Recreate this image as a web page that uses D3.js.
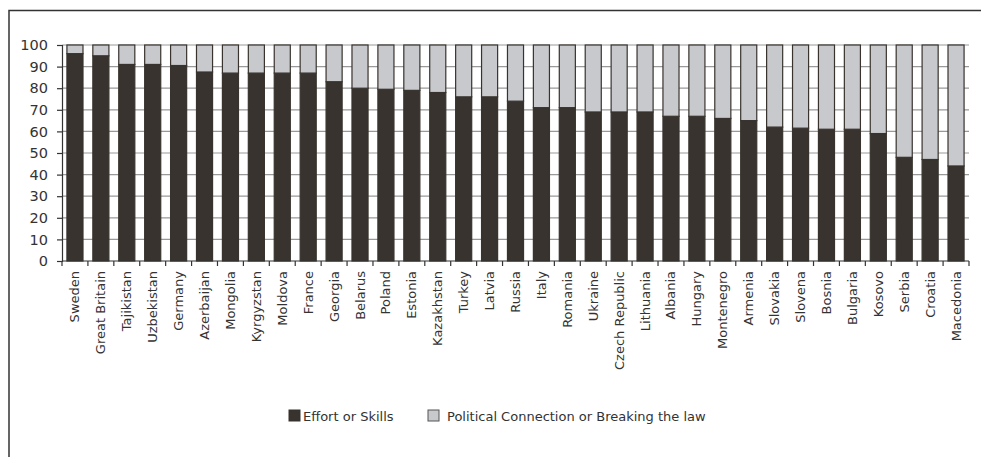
<!DOCTYPE html>
<html>
<head>
<meta charset="utf-8">
<script src="https://cdn.jsdelivr.net/npm/d3@7"></script>
<style>
  body { margin: 0; background: #fff; }
  svg { display: block; font-family: "DejaVu Sans", Verdana, sans-serif; }
</style>
</head>
<body>
<div id="chart"></div>
<script>
const countries = ["Sweden", "Great Britain", "Tajikistan", "Uzbekistan", "Germany", "Azerbaijan",
  "Mongolia", "Kyrgyzstan", "Moldova", "France", "Georgia", "Belarus", "Poland", "Estonia",
  "Kazakhstan", "Turkey", "Latvia", "Russia", "Italy", "Romania", "Ukraine", "Czech Republic",
  "Lithuania", "Albania", "Hungary", "Montenegro", "Armenia", "Slovakia", "Slovena", "Bosnia",
  "Bulgaria", "Kosovo", "Serbia", "Croatia", "Macedonia"];

const effort = [96, 95, 91, 91, 90.5, 87.5, 87, 87, 87, 87, 83, 80, 79.5, 79, 78, 76, 76,
  74, 71, 71, 69, 69, 69, 67, 67, 66, 65, 62, 61.5, 61, 61, 59, 48, 47, 44];

const political = [4, 5, 9, 9, 9.5, 12.5, 13, 13, 13, 13, 17, 20, 20.5, 21, 22, 24, 24,
  26, 29, 29, 31, 31, 31, 33, 33, 34, 35, 38, 38.5, 39, 39, 41, 52, 53, 56];

const seriesNames = ["Effort or Skills", "Political Connection or Breaking the law"];
const yTicks = [0, 10, 20, 30, 40, 50, 60, 70, 80, 90, 100];

const width = 981, height = 457;
const margin = { left: 62, right: 12, top: 45, bottom: 196 };
const dark = "#38332e", light = "#c8c9cd";

const svg = d3.select("#chart").append("svg")
  .attr("width", width).attr("height", height);

// cadre
svg.append("path")
  .attr("d", `M9,${height} V10.5 H${width}`)
  .attr("fill", "none").attr("stroke", "#333").attr("stroke-width", 1.5);

const x = d3.scaleBand()
  .domain(countries)
  .range([margin.left, width - margin.right])
  .paddingInner(0.38).paddingOuter(0.19);

const y = d3.scaleLinear()
  .domain([0, 100])
  .range([height - margin.bottom, margin.top]);

// grille
svg.append("g")
  .selectAll("line")
  .data(yTicks.filter(d => d > 0))
  .join("line")
  .attr("x1", margin.left).attr("x2", width - margin.right)
  .attr("y1", d => y(d)).attr("y2", d => y(d))
  .attr("stroke", "#999").attr("stroke-width", 1.2);

const stacked = d3.stack().keys(["effort", "political"])(
  countries.map((c, i) => ({ country: c, effort: effort[i], political: political[i] }))
);

svg.append("g")
  .selectAll("g")
  .data(stacked)
  .join("g")
  .attr("fill", (d, i) => i === 0 ? dark : light)
  .selectAll("rect")
  .data(d => d)
  .join("rect")
  .attr("x", d => x(d.data.country))
  .attr("width", x.bandwidth())
  .attr("y", d => y(d[1]))
  .attr("height", d => y(d[0]) - y(d[1]))
  .attr("stroke", dark).attr("stroke-width", 1.2);

// axe X
const xAxis = svg.append("g")
  .attr("transform", `translate(0,${y(0)})`);
xAxis.append("line")
  .attr("x1", margin.left).attr("x2", width - margin.right)
  .attr("stroke", "#333").attr("stroke-width", 1.2);
xAxis.append("g")
  .selectAll("line")
  .data(d3.range(countries.length + 1))
  .join("line")
  .attr("x1", i => margin.left + i * x.step())
  .attr("x2", i => margin.left + i * x.step())
  .attr("y1", 0).attr("y2", 5)
  .attr("stroke", "#333").attr("stroke-width", 1.2);
xAxis.append("g")
  .selectAll("text")
  .data(countries)
  .join("text")
  .attr("transform", d => `translate(${x(d) + x.bandwidth() / 2 + 4.5},10) rotate(-90)`)
  .attr("text-anchor", "end")
  .attr("font-size", 13)
  .attr("fill", "#333")
  .text(d => d);

// axe Y
const yAxis = svg.append("g")
  .attr("transform", `translate(${margin.left},0)`)
  .call(d3.axisLeft(y).tickValues(yTicks).tickSize(5).tickPadding(9));
yAxis.select(".domain").attr("stroke", "#333").attr("stroke-width", 1.2);
yAxis.selectAll(".tick line").attr("stroke", "#333").attr("stroke-width", 1.2);
yAxis.selectAll(".tick text")
  .attr("font-size", 14.5)
  .attr("font-family", "DejaVu Sans, Verdana, sans-serif")
  .attr("fill", "#333");

// légende
const legendX = [289, 428];
const legend = svg.append("g")
  .selectAll("g")
  .data(seriesNames)
  .join("g")
  .attr("transform", (d, i) => `translate(${legendX[i]},410)`);
legend.append("rect")
  .attr("width", 11).attr("height", 11)
  .attr("fill", (d, i) => i === 0 ? dark : light)
  .attr("stroke", (d, i) => i === 0 ? dark : "#555");
legend.append("text")
  .attr("x", (d, i) => i === 0 ? 14 : 19)
  .attr("y", 11)
  .attr("font-size", 13)
  .attr("fill", "#333")
  .text(d => d);
</script>
</body>
</html>
